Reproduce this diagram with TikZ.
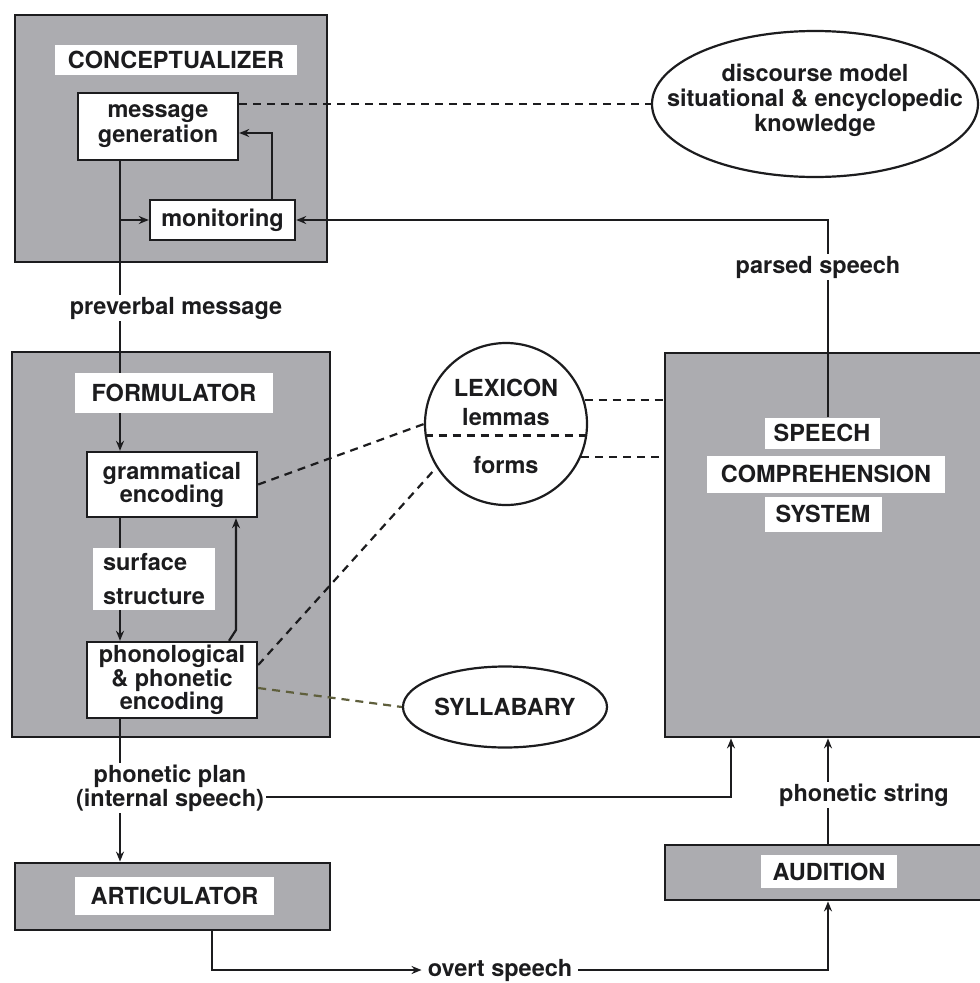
\documentclass[tikz,border=0pt]{standalone}
\usepackage{fontspec}
\setmainfont{TeX Gyre Heros}
\usetikzlibrary{arrows.meta,shapes.geometric,calc}
\definecolor{boxgray}{RGB}{172,172,176}
\definecolor{inkc}{RGB}{28,28,30}
\definecolor{olive}{RGB}{95,95,60}
\pgfdeclarelayer{back}
\pgfdeclarelayer{mid}
\pgfsetlayers{back,mid,main}
\newcommand\myfs[1]{\bfseries\fontsize{23.5}{#1}\selectfont}
\begin{document}
\begin{tikzpicture}[x=1pt,y=-1pt,
  every node/.style={font=\myfs{25}, inner sep=0pt, text=inkc},
  graybox/.style={draw=inkc, line width=2.8pt, fill=boxgray, rectangle},
  wbox/.style={draw=inkc, line width=2.4pt, fill=white, align=center},
  lab/.style={fill=white, align=center},
  tag/.style={fill=white, align=center, inner sep=2pt},
  conn/.style={line width=2.2pt, draw=inkc},
  arr/.style={conn, -{Stealth[length=10pt,width=8pt]}},
  dsh/.style={conn, dash pattern=on 8pt off 6pt}]
\useasboundingbox (0,0) rectangle (980,983);
\begin{pgfonlayer}{back}
\fill[white] (0,0) rectangle (980,983);
\node[graybox, minimum width=312pt, minimum height=247pt] (concept) at (171,138.5) {};
\node[graybox, minimum width=318pt, minimum height=385pt] (form) at (171,544.5) {};
\node[graybox, minimum width=318pt, minimum height=384pt] (scs) at (824,545) {};
\node[graybox, minimum width=315pt, minimum height=67pt] (art) at (172.5,896.5) {};
\node[graybox, minimum width=318pt, minimum height=55pt] (aud) at (824,872.5) {};
\end{pgfonlayer}
% conceptualizer
\node[lab, minimum width=242pt, minimum height=30pt] (conceptlbl) at (176,60) {CONCEPTUALIZER};
\node[wbox, minimum width=160pt, minimum height=67pt] (msggen) at (158,126.5) {message\\generation};
\node[wbox, minimum width=145pt, minimum height=40pt] (monitor) at (222.5,220) {monitoring};
\node[ellipse, conn, minimum width=326pt, minimum height=146pt] (disc) at (815,104) {};
\node[align=center] (disctxt) at (815,100) {discourse model\\situational \& encyclopedic\\knowledge};
% formulator
\node[lab, minimum width=198pt, minimum height=40pt] (formlbl) at (174,393) {FORMULATOR};
\node[wbox, minimum width=170pt, minimum height=65pt, font=\myfs{23}] (gram) at (172,484.5) {grammatical\\encoding};
\node[lab, minimum width=122pt, minimum height=62pt, align=left, font=\myfs{34}] (surf) at (154,579) {surface\\structure};
\node[wbox, minimum width=170pt, minimum height=76pt, font=\myfs{19.5}] (phon) at (172,680) {phonological\\\& phonetic\\encoding};
% lexicon
\node[circle, conn, minimum size=162pt] (lex) at (506,424) {};
\node (lexA) at (506,388) {LEXICON};
\node (lexB) at (506,417) {lemmas};
\node (lexC) at (506,465) {forms};
% speech comprehension
\node[lab, minimum width=115pt, minimum height=31pt] (speechlbl) at (822,433) {SPEECH};
\node[lab, minimum width=238pt, minimum height=37pt] (comprlbl) at (826,474) {COMPREHENSION};
\node[lab, minimum width=117pt, minimum height=35pt] (systemlbl) at (823,514) {SYSTEM};
% syllabary
\node[ellipse, conn, minimum width=204pt, minimum height=81pt] (syll) at (505,707) {};
\node (sylltxt) at (505,707) {SYLLABARY};
% bottom
\node[lab, minimum width=199pt, minimum height=38pt] (artlbl) at (174.5,896) {ARTICULATOR};
\node[lab, minimum width=136pt, minimum height=33pt] (audlbl) at (829,871.5) {AUDITION};
% free labels
\node[tag] (pvm) at (176,308) {preverbal message};
\node[tag] (parsed) at (818,267) {parsed speech};
\node[tag, font=\myfs{20}] (plan) at (170,788) {phonetic plan\\(internal speech)};
\node[tag] (pstring) at (864,795) {phonetic string};
\node[tag, inner sep=6pt] (overt) at (500,970) {overt speech};
% helper coordinates
\coordinate (xA) at (120,0);
\coordinate (xB) at (229,0);
\coordinate (bend) at (236,630);
\coordinate (fb) at (272,133);
\coordinate (px) at (828,220);
\coordinate (xC) at (731,0);
\coordinate (xD) at (828,0);
\coordinate (xE) at (212,0);
\begin{pgfonlayer}{mid}
\draw[arr] (msggen.south -| xA) -- (gram.north -| xA);
\draw[arr] (xA |- monitor.west) -- (monitor.west);
\draw[arr] (monitor.north -| fb) -- (fb) -- (msggen.east |- fb);
\draw[dsh] (msggen.east |- disc.west) -- (disc.west);
\draw[arr] (speechlbl.north -| px) -- (px) -- (monitor.east);
\draw[arr] (gram.south -| xA) -- (phon.north -| xA);
\draw[arr] (phon.north -| xB) -- (bend) -- (gram.south -| bend);
\draw[arr] (phon.south -| xA) -- (art.north -| xA);
\draw[arr] ([yshift=-9pt]plan.east) -| (scs.south -| xC);
\draw[arr] (aud.north -| xD) -- (scs.south -| xD);
\draw[arr] (art.south -| xE) |- (overt.west);
\draw[arr] (overt.east) -| (aud.south -| xD);
\draw[dsh] (gram.east) -- (lex.west);
\draw[dsh] ([yshift=15pt]phon.east) -- (lex.212);
\draw[dsh, draw=olive] ([yshift=-8pt]phon.east) -- (syll.west);
\draw[dsh] (lex.188) -- (lex.-8);
\draw[dsh] (lex.17) -- (lex.17 -| scs.west);
\draw[dsh] (lex.-24) -- (lex.-24 -| scs.west);
\end{pgfonlayer}
\end{tikzpicture}
\end{document}
